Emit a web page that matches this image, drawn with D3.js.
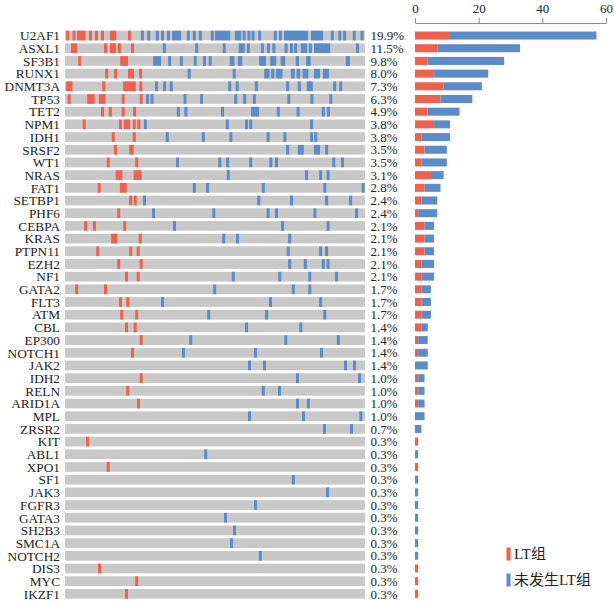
<!DOCTYPE html>
<html><head><meta charset="utf-8">
<script src="https://cdn.jsdelivr.net/npm/d3@7/dist/d3.min.js"></script>
<style>
html,body{margin:0;padding:0;background:#fff;}
svg{display:block;}
text{font-family:"Liberation Serif","Times New Roman",serif;fill:#222;}
</style></head>
<body><svg id="chart" width="614" height="604"></svg>
<script>
const genes = ["U2AF1","ASXL1","SF3B1","RUNX1","DNMT3A","TP53","TET2","NPM1","IDH1","SRSF2","WT1","NRAS","FAT1","SETBP1","PHF6","CEBPA","KRAS","PTPN11","EZH2","NF1","GATA2","FLT3","ATM","CBL","EP300","NOTCH1","JAK2","IDH2","RELN","ARID1A","MPL","ZRSR2","KIT","ABL1","XPO1","SF1","JAK3","FGFR3","GATA3","SH2B3","SMC1A","NOTCH2","DIS3","MYC","IKZF1"];
const pctLabels = ["19.9%","11.5%","9.8%","8.0%","7.3%","6.3%","4.9%","3.8%","3.8%","3.5%","3.5%","3.1%","2.8%","2.4%","2.4%","2.1%","2.1%","2.1%","2.1%","2.1%","1.7%","1.7%","1.7%","1.4%","1.4%","1.4%","1.4%","1.0%","1.0%","1.0%","1.0%","0.7%","0.3%","0.3%","0.3%","0.3%","0.3%","0.3%","0.3%","0.3%","0.3%","0.3%","0.3%","0.3%","0.3%"];
const ltCounts    = [11,7,4,6,9,8,4,6,2,3,2,5,3,2,1,3,3,3,2,2,2,2,2,2,1,1,0,1,1,1,0,0,1,0,1,0,0,0,0,0,0,0,1,1,1];
const nonLtCounts = [46,26,24,17,12,10,10,5,9,7,8,4,5,5,6,3,3,3,4,4,3,3,3,2,3,3,4,2,2,2,3,2,0,1,0,1,1,1,1,1,1,1,0,0,0];
const axisTicks = [0,20,40,60];
const legendLabels = ["LT组","未发生LT组"];

// oncoprint marks per gene: [patient column start, run length] on a 100-column grid
const ltMarks = [
 [[0.4,1],[2.5,1],[4,2.8],[8,1],[10,1],[12,1],[15,2.1],[21,1]],
 [[2,2],[13,1],[15,2],[17.6,1],[22,1]],
 [[4.4,1],[18.4,2.6]],
 [[13.4,1],[16.4,1],[21,2],[24.7,1]],
 [[0.4,2.1],[12.4,1],[19.4,4.2],[24.8,1]],
 [[0.9,1],[7.4,2.5],[11.3,2.2],[18.9,1],[24.9,1]],
 [[12,1],[14.6,1],[18.9,1],[22.7,1]],
 [[5.9,1],[18,1],[19.6,2.1],[22.6,1],[24.1,1]],
 [[15.6,1],[22.6,1]],
 [[16.3,1],[21.4,1.5]],
 [[13.9,1],[23.4,1]],
 [[16.9,2.2],[22.9,2.6]],
 [[10.9,1],[18.3,2.3]],
 [[21.4,1],[22.9,1]],
 [[17.4,1]],
 [[6.4,1],[9.3,1],[19.4,1]],
 [[15.4,2],[24.6,1]],
 [[10.4,1],[21.4,1],[23.9,1]],
 [[17.4,1],[24.9,1]],
 [[20,1],[23.9,1]],
 [[3.4,1],[13,1]],
 [[18,1],[20.4,1]],
 [[18.4,1],[23.4,1]],
 [[20,1],[22.9,1]],
 [[24.9,1]],
 [[22,1]],
 [],
 [[24.9,1]],
 [[20.4,1]],
 [[24,1]],
 [],
 [],
 [[7,1]],
 [],
 [[13.9,1]],
 [],[],[],[],[],[],[],
 [[11,1]],
 [[23.4,1]],
 [[20,1]]
];
const nonLtMarks = [
 [[25.3,1],[27.4,1],[30.3,1],[32,1],[34,1],[35.7,3],[40.6,1],[42.6,1],[44.6,1],[48.6,1],[50,5.1],[56.6,2.1],[59.2,1],[60.8,1],[62.2,1],[64.4,1],[69.6,1],[71.3,1],[73,8],[82,4],[88.6,1],[91.1,1],[92.7,1],[95.9,1],[98.5,1]],
 [[32.6,1],[43.4,1],[52.6,1],[57.9,2],[60.6,1],[65.3,1],[67.3,1],[69.1,1],[73.2,1],[75,1],[76.4,1],[78.6,2.1],[81.3,1],[83,5.4],[97,1]],
 [[29.4,2.6],[34.4,1],[38.3,1],[42.9,1],[46,1],[47.9,1],[54.9,1.6],[57.6,1.5],[64.7,2.3],[68.4,2],[71.9,1.5],[76.9,1.1],[80.4,1.5],[93.6,1.4]],
 [[40.9,1],[55.9,1],[66.4,1.8],[68.7,1.1],[70.3,2.2],[75.3,1.3],[77.2,1.2],[79.2,1.9],[83,2],[86,2]],
 [[30,1],[32.7,1],[34.9,1],[54.4,1],[56.9,1],[63.3,1],[73.7,1],[77.6,1],[80.6,2],[89.4,1],[91.4,1]],
 [[27,1],[28.5,1],[39.5,1],[45,1],[56.4,1],[59.4,1],[62.6,1],[74.1,1],[81.8,1],[88.1,1]],
 [[37.3,1],[39.8,1],[52,1],[62,2.7],[70.6,1],[77.2,1],[85.6,1],[87.3,1]],
 [[26.3,1],[53.6,1],[60,1],[61.4,1],[81.7,1]],
 [[33.6,1],[45.6,1],[54.8,1],[67.2,1],[72.8,1],[81.7,1],[83.1,1]],
 [[73.7,1],[77.6,2],[83,2],[86.7,1]],
 [[37,1],[51.1,1],[53.7,1],[61.4,1],[68.1,1],[70,1],[89.1,1],[92,1]],
 [[53.9,1],[80,1],[84.7,1],[87.2,1]],
 [[42.6,1],[47,1],[65.6,1],[86.1,1],[98.9,1]],
 [[26,1],[64.1,1],[75,1],[86.7,1],[94.7,1]],
 [[29,1],[49.1,1],[67.2,1],[70,1],[82.8,1],[96.7,1]],
 [[36,1],[72,1],[87.2,1]],
 [[52.4,1],[57,1],[74.4,1]],
 [[73.9,1],[84.7,1],[86.7,1]],
 [[74.4,1],[79.6,1],[85.6,1],[87.2,1]],
 [[55.6,1],[71.1,1],[81.1,1],[90,1]],
 [[49.4,1],[75.6,1],[81.1,1]],
 [[32,1],[68,1],[84.7,1]],
 [[47.4,1],[66.7,1],[86.1,1]],
 [[60,1],[78.1,1]],
 [[41.4,1],[73.1,1],[90.6,1]],
 [[39,1],[63,1],[85,1]],
 [[61,1],[66,1],[93,1],[96,1]],
 [[77,1],[97.7,1]],
 [[65.6,1],[71,1]],
 [[77,1],[80.6,1]],
 [[61,1],[79,1],[98.1,1]],
 [[86,1],[95,1]],
 [],
 [[46.4,1]],
 [],
 [[75.6,1]],
 [[87,1]],
 [[63,1]],
 [[53,1]],
 [[56,1]],
 [[55,1]],
 [[64.6,1]],
 [],[],[]
];

const RED = "#f0604d", BLUE = "#5b8bc8", GRAY = "#c8c8c8";
const svg = d3.select("#chart");

const y = d3.scaleBand().domain(genes).range([29.2, 600.2]).paddingInner(0.236).paddingOuter(0.118);
const xo = d3.scaleLinear().domain([0,100]).range([65,365]);
const xb = d3.scaleLinear().domain([0,60]).range([415,606]);

// gene labels
svg.append("g").selectAll("text").data(genes).join("text")
  .attr("x", 60).attr("y", d => y(d) + y.bandwidth()/2)
  .attr("dy","0.36em").attr("text-anchor","end")
  .style("font-size","13.3px").text(d => d);

// gray rows
svg.append("g").selectAll("rect").data(genes).join("rect")
  .attr("x", xo(0)).attr("width", xo(100)-xo(0))
  .attr("y", d => y(d)).attr("height", y.bandwidth()).attr("fill", GRAY);

// marks
function drawMarks(marks, color){
  const flat = [];
  marks.forEach((arr,i) => arr.forEach(m => flat.push({g:genes[i], s:m[0], n:m[1]})));
  svg.append("g").selectAll("rect").data(flat).join("rect")
    .attr("x", d => xo(d.s)).attr("width", d => xo(d.s+d.n)-xo(d.s))
    .attr("y", d => y(d.g)).attr("height", y.bandwidth()).attr("fill", color);
}
drawMarks(ltMarks, RED);
drawMarks(nonLtMarks, BLUE);

// percent labels
svg.append("g").selectAll("text").data(genes).join("text")
  .attr("x", 370.5).attr("y", d => y(d) + y.bandwidth()/2)
  .attr("dy","0.36em").style("font-size","13px")
  .text((d,i) => pctLabels[i]);

// bar chart
const bh = 8;
const barData = genes.map((g,i) => ({g, lt: ltCounts[i], nl: nonLtCounts[i]}));
const bg = svg.append("g");
bg.selectAll("rect.lt").data(barData.filter(d=>d.lt>0)).join("rect").attr("class","lt")
  .attr("x", xb(0)).attr("width", d => xb(d.lt)-xb(0))
  .attr("y", d => y(d.g) + (y.bandwidth()-bh)/2).attr("height", bh)
  .attr("fill", RED);
bg.selectAll("rect.nl").data(barData.filter(d=>d.nl>0)).join("rect").attr("class","nl")
  .attr("x", d => xb(d.lt)).attr("width", d => xb(d.lt+d.nl)-xb(d.lt))
  .attr("y", d => y(d.g) + (y.bandwidth()-bh)/2).attr("height", bh)
  .attr("fill", BLUE);

// axis
const ax = svg.append("g").attr("transform","translate(0,23)")
  .call(d3.axisTop(xb).tickValues(axisTicks).tickSize(5).tickSizeOuter(0).tickPadding(5));
ax.select(".domain").attr("stroke","#8c8c8c");
ax.selectAll(".tick line").attr("stroke","#8c8c8c");
ax.selectAll(".tick text").style("font-size","13px")
  .style("font-family",'"Liberation Serif","Times New Roman",serif').attr("fill","#222");

// legend
const leg = svg.append("g");
[RED, BLUE].forEach((c,i) => {
  const ly = 554 + i*26;
  leg.append("rect").attr("x",506.5).attr("y",ly-6.5).attr("width",4).attr("height",13).attr("fill",c);
  leg.append("text").attr("x",514).attr("y",ly).attr("dy","0.36em")
    .style("font-size","15px")
    .style("font-family",'"Liberation Serif","Noto Sans CJK SC",serif')
    .text(legendLabels[i]);
});
</script></body></html>
